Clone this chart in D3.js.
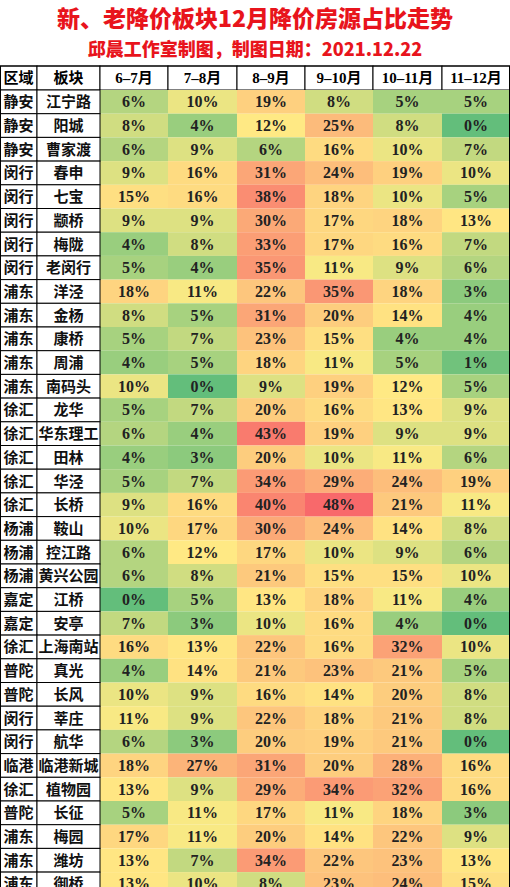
<!DOCTYPE html>
<html><head><meta charset="utf-8">
<script src="https://cdn.jsdelivr.net/npm/d3@7"></script>
<style>body{margin:0;background:#fff}</style>
</head><body>
<svg id="c" width="510" height="887"></svg>
<script>
var headers = ['区域','板块','6-7月','7-8月','8-9月','9-10月','10-11月','11-12月'];
var regions = ['静安','静安','静安','闵行','闵行','闵行','闵行','闵行','浦东','浦东','浦东','浦东','浦东','徐汇','徐汇','徐汇','徐汇','徐汇','杨浦','杨浦','杨浦','嘉定','嘉定','徐汇','普陀','普陀','闵行','闵行','临港','徐汇','普陀','浦东','浦东','浦东'];
var blocks = ['江宁路','阳城','曹家渡','春申','七宝','颛桥','梅陇','老闵行','洋泾','金杨','康桥','周浦','南码头','龙华','华东理工','田林','华泾','长桥','鞍山','控江路','黄兴公园','江桥','安亭','上海南站','真光','长风','莘庄','航华','临港新城','植物园','长征','梅园','潍坊','御桥'];
var m67 = [6,8,6,9,15,9,4,5,18,8,5,4,10,5,6,4,5,9,10,6,6,0,7,16,4,10,11,6,18,13,5,17,13,13];
var m78 = [10,4,9,16,16,9,8,4,11,5,7,5,0,7,4,3,7,16,17,12,8,5,3,13,14,9,9,3,27,9,11,11,7,10];
var m89 = [19,12,6,31,38,30,33,35,22,31,23,18,9,20,43,20,34,40,30,17,21,13,10,22,21,16,22,20,31,29,17,20,34,8];
var m910 = [8,25,16,24,18,17,17,11,35,20,15,11,19,16,19,10,29,48,24,10,15,18,16,16,23,14,18,19,20,34,11,14,22,23];
var m1011 = [5,8,10,19,10,18,16,9,18,14,4,5,12,13,9,11,24,21,14,9,15,11,4,32,21,20,21,21,28,32,18,22,23,24];
var m1112 = [5,0,7,10,5,13,7,6,3,4,4,1,5,9,9,6,19,11,8,6,10,4,0,10,5,8,8,0,16,16,3,9,13,15];
var series = [m67,m78,m89,m910,m1011,m1112];

var svg = d3.select('#c');
var font = '"Noto Sans CJK SC", sans-serif';
svg.append('text').attr('x',255).attr('y',27).attr('text-anchor','middle')
  .attr('font-family',font).attr('font-weight',900).attr('font-size',23).attr('fill','#e8141c')
  .text('新、老降价板块12月降价房源占比走势');
svg.append('text').attr('x',255).attr('y',56).attr('text-anchor','middle')
  .attr('font-family',font).attr('font-weight',900).attr('font-size',18).attr('fill','#e8141c')
  .text('邱晨工作室制图，制图日期：2021.12.22');

var colX = [0,37,100,168,237,305,373,442,510];
var top0 = 66, headH = 24, rowH = 23.7;
var y = function(i){ return top0 + headH + i*rowH; };

headers.forEach(function(h,j){
  svg.append('rect').attr('x',colX[j]).attr('y',top0).attr('width',colX[j+1]-colX[j]).attr('height',headH)
    .attr('fill','#fff').attr('stroke','#000').attr('stroke-width',1);
  svg.append('text').attr('x',(colX[j]+colX[j+1])/2).attr('y',top0+headH/2+5).attr('text-anchor','middle')
    .attr('font-family','"Liberation Serif", "Noto Sans CJK SC", serif').attr('font-weight','bold').attr('font-size',15)
    .text(h.replace('-','–'));
});

// one colour scale over the whole block of values
var all = d3.merge(series);
var color = d3.scaleLinear().domain([d3.min(all), d3.median(all), d3.max(all)])
  .range(['#63be7b','#ffeb84','#f8696b']);

series.forEach(function(vals,k){
  var j = k+2;
  vals.forEach(function(v,i){
    svg.append('rect').attr('x',colX[j]).attr('y',y(i)).attr('width',colX[j+1]-colX[j]).attr('height',rowH)
      .attr('fill',color(v));
    svg.append('text').attr('x',(colX[j]+colX[j+1])/2).attr('y',y(i)+rowH/2+5.5).attr('text-anchor','middle')
      .attr('font-family','"Liberation Serif", serif').attr('font-weight','bold').attr('font-size',16).attr('fill','#222')
      .text(v+'%');
  });
});

blocks.forEach(function(b,i){
  [regions[i], b].forEach(function(t,j){
    svg.append('rect').attr('x',colX[j]).attr('y',y(i)).attr('width',colX[j+1]-colX[j]).attr('height',rowH)
      .attr('fill','#fff').attr('stroke','#000').attr('stroke-width',1);
    svg.append('text').attr('x',(colX[j]+colX[j+1])/2).attr('y',y(i)+rowH/2+5.5).attr('text-anchor','middle')
      .attr('font-family',font).attr('font-weight','bold').attr('font-size',15).attr('fill','#111')
      .text(t);
  });
});
svg.append('rect').attr('x',0.5).attr('y',top0).attr('width',509).attr('height',y(blocks.length)-top0)
  .attr('fill','none').attr('stroke','#000');
</script>
</body></html>
